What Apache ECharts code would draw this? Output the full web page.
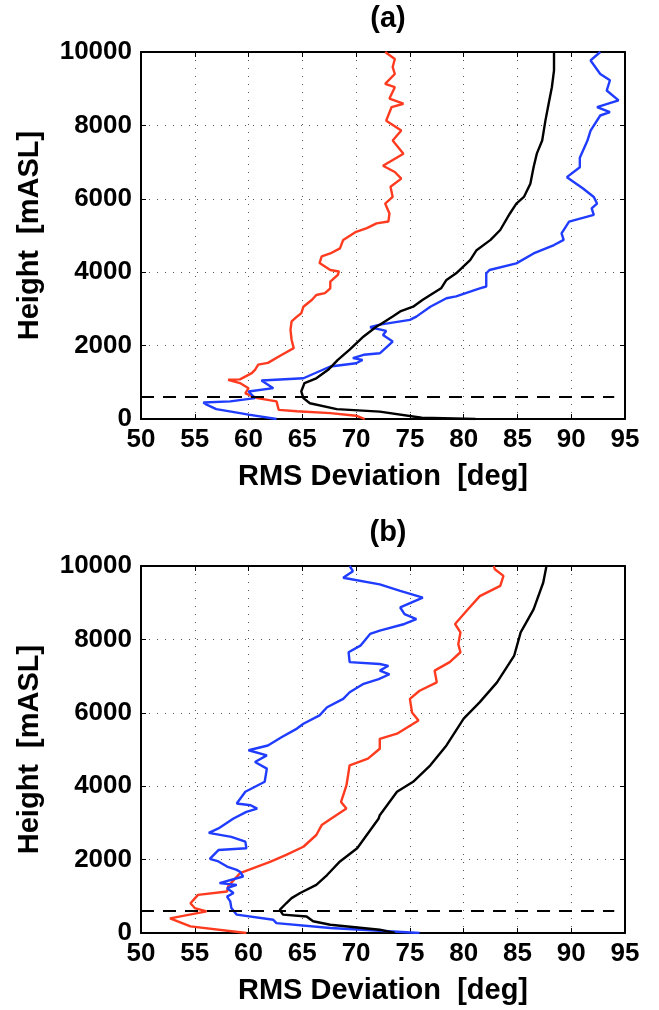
<!DOCTYPE html>
<html>
<head>
<meta charset="utf-8">
<script src="https://cdn.jsdelivr.net/npm/echarts@6/dist/echarts.min.js"></script>
<style>
    html, body { margin: 0; padding: 0; background: #fff; }
    #chart { width: 659px; height: 1010px; }
</style>
</head>
<body>
<div id="chart"></div>
<script>
    // [RMS deviation (deg), height (mASL)]
    const redA = [
        [70.8, 0], [70, 90], [67.6, 160], [64.5, 210], [62.8, 250], [62.6, 480], [60.8, 570],
        [59.7, 700], [60, 840], [59.2, 980], [58.1, 1070], [59.2, 1080], [60.3, 1250], [60.6, 1340],
        [60.9, 1480], [61.8, 1530], [63.1, 1750], [64.2, 1930], [64.0, 2160], [63.9, 2430],
        [64.0, 2660], [64.5, 2790], [64.9, 2880], [65.1, 3060], [65.9, 3250], [66.3, 3380],
        [67.1, 3430], [67.6, 3560], [67.6, 3740], [68.3, 3930], [68.4, 4020], [67.6, 4060],
        [66.6, 4250], [66.8, 4430], [67.6, 4510], [68.5, 4650], [68.8, 4880], [70.0, 5100],
        [71.0, 5200], [71.9, 5330], [73.0, 5380], [73.1, 5600], [72.7, 5870], [73.4, 6050],
        [73.2, 6330], [74.2, 6550], [73.6, 6730], [72.5, 6900], [74.4, 7230], [73.4, 7590],
        [74.2, 7860], [72.8, 8130], [73.3, 8500], [74.4, 8590], [73.1, 8730], [73.6, 9040],
        [72.7, 9130], [73.6, 9400], [73.4, 9590], [73.6, 9810], [72.7, 10000]
    ]
    const blueA = [
        [62.6, 0], [60, 120], [59.2, 160], [57, 270], [56.1, 390], [55.8, 450], [58.3, 480],
        [60.6, 570], [60, 750], [62.3, 840], [61.2, 1050], [65.1, 1110], [67.6, 1430], [70, 1520],
        [70.6, 1610], [69.7, 1660], [70.7, 1750], [72.2, 1790], [73.4, 2110], [72.5, 2290],
        [72.8, 2400], [71.3, 2500], [72.2, 2570], [75, 2700], [75.6, 2790], [76.9, 3060],
        [78.4, 3290], [79.3, 3340], [81.5, 3560], [82.1, 3610], [82.1, 3970], [82.4, 4060],
        [84.9, 4240], [86.5, 4510], [88.4, 4740], [89.3, 4880], [89.1, 5060], [89.8, 5380],
        [92.1, 5560], [91.9, 5740], [92.4, 5870], [92.1, 6050], [91.1, 6280], [89.6, 6590],
        [90.8, 6860], [90.8, 7120], [91.5, 7580], [91.8, 7860], [92.7, 8270], [93.6, 8360],
        [92.4, 8500], [94.4, 8680], [93.3, 8950], [93.6, 9230], [92.7, 9400], [91.8, 9770],
        [92.7, 10000]
    ]
    const blackA = [
        [81.1, 0], [76.1, 35], [72.2, 200], [68.2, 270], [65.7, 430], [65.1, 570], [64.9, 750],
        [65.2, 980], [66.3, 1110], [67.4, 1340], [68.3, 1610], [69.4, 1890], [70.7, 2250],
        [71.9, 2520], [72.2, 2570], [73.4, 2790], [74.1, 2930], [75.3, 3060], [76.2, 3250],
        [76.9, 3380], [77.9, 3560], [78.4, 3790], [79.3, 3970], [80.6, 4330], [81.2, 4600],
        [82.5, 4880], [83.4, 5150], [84.3, 5600], [84.9, 5870], [85.6, 6050], [86.2, 6410],
        [86.5, 6860], [86.8, 7230], [87.3, 7590], [87.6, 8130], [87.9, 8590], [88.2, 9040],
        [88.4, 9500], [88.4, 10000]
    ]
    const redB = [
        [59.8, 0], [54.6, 180], [52.7, 400], [56.1, 590], [55, 680], [54.6, 810], [55.3, 1040],
        [58, 1130], [58.1, 1270], [59.2, 1630], [62, 1940], [63.5, 2130], [65.1, 2350],
        [66.3, 2670], [66.8, 2940], [67.7, 3120], [69.1, 3390], [68.6, 3570], [69.1, 4020],
        [69.4, 4570], [71.1, 4750], [72.2, 5020], [72.2, 5290], [73.8, 5430], [75.8, 5790],
        [75.2, 6010], [75, 6380], [75.9, 6600], [77.5, 6830], [77.3, 7150], [78.7, 7380],
        [79.7, 7650], [79.5, 7870], [79.7, 8190], [79.2, 8420], [80.4, 8820], [81.5, 9180],
        [83.4, 9460], [83.7, 9730], [82.9, 9910], [82.8, 10000]
    ]
    const blueB = [
        [75.9, 0], [72.2, 60], [67.6, 135], [62.6, 270], [62.3, 360], [58.9, 500], [58.4, 680],
        [58.3, 860], [58.0, 990], [58.6, 1090], [58, 1220], [58.9, 1310], [57.3, 1360],
        [59.5, 1540], [59.2, 1670], [58.9, 1720], [58, 1810], [57.2, 1950], [56.4, 2020],
        [57.2, 2260], [59.8, 2310], [59.7, 2490], [58.4, 2620], [56.3, 2730], [57.2, 2850],
        [58.6, 3120], [59.8, 3300], [60.8, 3390], [60.2, 3480], [58.9, 3530], [59.7, 3850],
        [61.5, 4120], [61.7, 4480], [60.6, 4660], [61.7, 4840], [60, 4980], [61.8, 5110],
        [63.1, 5340], [64.5, 5570], [65.1, 5700], [66.6, 5930], [67.3, 6150], [68.8, 6380],
        [69.4, 6560], [70.7, 6790], [72.1, 6920], [73.1, 7050], [72.2, 7150], [73, 7280],
        [72.2, 7330], [69.4, 7380], [69.3, 7650], [70.4, 7830], [71.3, 8150], [72.2, 8240],
        [74.5, 8420], [75.6, 8550], [74.5, 8690], [74.1, 8870], [76.2, 9140], [74.1, 9320],
        [72.2, 9500], [68.8, 9680], [69.7, 9860], [69.4, 10000]
    ]
    const blackB = [
        [73.6, 0], [72.2, 90], [67.6, 225], [66.0, 320], [65.4, 450], [63.2, 500], [62.9, 630],
        [63.5, 810], [64, 950], [64.8, 1090], [66.3, 1310], [67.3, 1580], [68.5, 1950],
        [70.1, 2310], [72.1, 3120], [72.2, 3210], [73.8, 3850], [75.3, 4120], [76.9, 4570],
        [78.4, 5110], [80, 5840], [81.5, 6290], [83.1, 6830], [84.7, 7560], [85.3, 8190],
        [86.5, 8820], [87.4, 9550], [87.7, 10000]
    ]
    const dashHeight = 600
    const panelTitles = ['(a)', '(b)']

    const RED = '#ff3b1f'
    const BLUE = '#1f3cff'
    const BLACK = '#000'
    const FONT = 'Liberation Sans, Arial, Helvetica, sans-serif'

    const grids = [
        { left: 141, top: 52, width: 484, height: 367 },
        { left: 141, top: 566, width: 484, height: 367 }
    ]

    let xAxes = []
    let yAxes = []
    let series = []
    let titles = []

    const panels = [
        [redA, blueA, blackA],
        [redB, blueB, blackB]
    ]

    grids.forEach((g, i) => {
        titles.push({
            text: panelTitles[i],
            left: g.left + g.width / 2,
            textAlign: 'center',
            top: g.top - 53,
            textStyle: { fontFamily: FONT, fontWeight: 'bold', fontSize: 29, color: '#000' }
        })
        // bottom x axis
        xAxes.push({
            type: 'value', gridIndex: i, min: 50, max: 95, interval: 5, position: 'bottom',
            name: 'RMS Deviation  [deg]', nameLocation: 'middle', nameGap: 43,
            nameTextStyle: { fontFamily: FONT, fontWeight: 'bold', fontSize: 29, color: '#000' },
            axisLine: { onZero: false, lineStyle: { color: '#000', width: 2 } },
            axisTick: { inside: true, length: 5, lineStyle: { color: '#000', width: 1 } },
            axisLabel: { fontFamily: FONT, fontWeight: 'bold', fontSize: 26, color: '#000', margin: 8 },
            splitLine: { show: true, lineStyle: { color: '#555', width: 1, type: [1, 7] } }
        })
        // top x axis (ticks only)
        xAxes.push({
            type: 'value', gridIndex: i, min: 50, max: 95, interval: 5, position: 'top',
            axisLine: { onZero: false, lineStyle: { color: '#000', width: 2 } },
            axisTick: { inside: true, length: 5, lineStyle: { color: '#000', width: 1 } },
            axisLabel: { show: false },
            splitLine: { show: false }
        })
        yAxes.push({
            type: 'value', gridIndex: i, min: 0, max: 10000, interval: 2000, position: 'left',
            name: 'Height  [mASL]', nameLocation: 'middle', nameGap: 97,
            nameTextStyle: { fontFamily: FONT, fontWeight: 'bold', fontSize: 29, color: '#000' },
            axisLine: { onZero: false, lineStyle: { color: '#000', width: 2 } },
            axisTick: { inside: true, length: 5, lineStyle: { color: '#000', width: 1 } },
            axisLabel: {
                fontFamily: FONT, fontWeight: 'bold', fontSize: 26, color: '#000', margin: 9,
                formatter: v => String(v)
            },
            splitLine: { show: true, lineStyle: { color: '#555', width: 1, type: [1, 7] } }
        })
        yAxes.push({
            type: 'value', gridIndex: i, min: 0, max: 10000, interval: 2000, position: 'right',
            axisLine: { onZero: false, lineStyle: { color: '#000', width: 2 } },
            axisTick: { inside: true, length: 5, lineStyle: { color: '#000', width: 1 } },
            axisLabel: { show: false },
            splitLine: { show: false }
        })

        const colors = [RED, BLUE, BLACK]
        panels[i].forEach((d, k) => {
            series.push({
                type: 'line', xAxisIndex: i * 2, yAxisIndex: i * 2, data: d,
                showSymbol: false, animation: false, z: 3,
                lineStyle: { color: colors[k], width: 2.4 }
            })
        })
        series.push({
            type: 'line', xAxisIndex: i * 2, yAxisIndex: i * 2,
            data: [[50, dashHeight], [94, dashHeight]],
            showSymbol: false, animation: false, z: 4,
            lineStyle: { color: '#000', width: 2, type: [13, 9] }
        })
    })

    const chart = echarts.init(document.getElementById('chart'))
    chart.setOption({
        animation: false,
        title: titles,
        grid: grids,
        xAxis: xAxes,
        yAxis: yAxes,
        series: series
    })
</script>
</body>
</html>
